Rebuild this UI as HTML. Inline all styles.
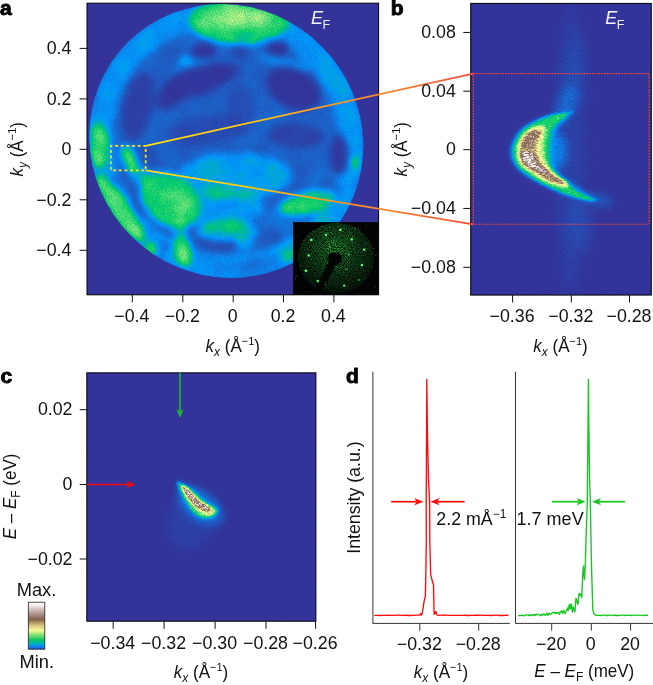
<!DOCTYPE html>
<html><head><meta charset="utf-8"><title>Figure</title>
<style>html,body{margin:0;padding:0;background:#fff;overflow:hidden}svg{display:block}text{font-family:"Liberation Sans",Arial,Helvetica,sans-serif;fill:#111}</style>
</head><body>
<svg width="653" height="685" viewBox="0 0 653 685">
<defs>

<filter id="fa" x="0" y="0" width="100%" height="100%" filterUnits="objectBoundingBox" color-interpolation-filters="sRGB">
<feGaussianBlur in="SourceGraphic" stdDeviation="3.6" result="b"/>
<feTurbulence type="fractalNoise" baseFrequency="0.045" numOctaves="3" seed="15" result="t2"/>
<feColorMatrix in="t2" type="matrix" values="2.4 0 0 0 -0.7  2.4 0 0 0 -0.7  2.4 0 0 0 -0.7  0 0 0 0 1" result="n2"/>
<feComposite in="b" in2="n2" operator="arithmetic" k1="0.22" k2="0.89" k3="0" k4="0" result="b"/>
<feTurbulence type="fractalNoise" baseFrequency="0.9" numOctaves="2" seed="4" result="t"/>
<feColorMatrix in="t" type="matrix" values="2.2 0 0 0 -0.6  2.2 0 0 0 -0.6  2.2 0 0 0 -0.6  0 0 0 0 1" result="n"/>
<feComposite in="b" in2="n" operator="arithmetic" k1="0.24" k2="0.88" k3="0.012" k4="-0.006" result="m"/>
<feComponentTransfer in="m"><feFuncR type="table" tableValues="0.200 0.133 0.067 0.000 0.000 0.000 0.200 0.400 0.600 0.800 1.000 0.900 0.800 0.700 0.600 0.500 0.600 0.700 0.800 0.900 1.000"/><feFuncG type="table" tableValues="0.200 0.333 0.467 0.600 0.700 0.800 0.840 0.880 0.920 0.960 1.000 0.872 0.744 0.616 0.488 0.360 0.488 0.616 0.744 0.872 1.000"/><feFuncB type="table" tableValues="0.600 0.733 0.867 1.000 0.700 0.400 0.440 0.480 0.520 0.560 0.600 0.546 0.492 0.438 0.384 0.330 0.464 0.598 0.732 0.866 1.000"/><feFuncA type="linear" slope="0" intercept="1"/></feComponentTransfer>
</filter>

<filter id="fb" x="0" y="0" width="100%" height="100%" filterUnits="objectBoundingBox" color-interpolation-filters="sRGB">
<feGaussianBlur in="SourceGraphic" stdDeviation="2.2 1.1" result="b"/>
<feTurbulence type="fractalNoise" baseFrequency="0.35 0.9" numOctaves="2" seed="7" result="t"/>
<feColorMatrix in="t" type="matrix" values="2.2 0 0 0 -0.6  2.2 0 0 0 -0.6  2.2 0 0 0 -0.6  0 0 0 0 1" result="n"/>
<feComposite in="b" in2="n" operator="arithmetic" k1="0.35" k2="0.825" k3="0.012" k4="-0.006" result="m"/>
<feComponentTransfer in="m"><feFuncR type="table" tableValues="0.200 0.133 0.067 0.000 0.000 0.000 0.200 0.400 0.600 0.800 1.000 0.900 0.800 0.700 0.600 0.500 0.600 0.700 0.800 0.900 1.000"/><feFuncG type="table" tableValues="0.200 0.333 0.467 0.600 0.700 0.800 0.840 0.880 0.920 0.960 1.000 0.872 0.744 0.616 0.488 0.360 0.488 0.616 0.744 0.872 1.000"/><feFuncB type="table" tableValues="0.600 0.733 0.867 1.000 0.700 0.400 0.440 0.480 0.520 0.560 0.600 0.546 0.492 0.438 0.384 0.330 0.464 0.598 0.732 0.866 1.000"/><feFuncA type="linear" slope="0" intercept="1"/></feComponentTransfer>
</filter>

<filter id="fc" x="0" y="0" width="100%" height="100%" filterUnits="objectBoundingBox" color-interpolation-filters="sRGB">
<feGaussianBlur in="SourceGraphic" stdDeviation="1.1" result="b"/>
<feTurbulence type="fractalNoise" baseFrequency="0.9" numOctaves="2" seed="9" result="t"/>
<feColorMatrix in="t" type="matrix" values="2.2 0 0 0 -0.6  2.2 0 0 0 -0.6  2.2 0 0 0 -0.6  0 0 0 0 1" result="n"/>
<feComposite in="b" in2="n" operator="arithmetic" k1="0.5" k2="0.75" k3="0.008" k4="-0.004" result="m"/>
<feComponentTransfer in="m"><feFuncR type="table" tableValues="0.200 0.133 0.067 0.000 0.000 0.000 0.200 0.400 0.600 0.800 1.000 0.900 0.800 0.700 0.600 0.500 0.600 0.700 0.800 0.900 1.000"/><feFuncG type="table" tableValues="0.200 0.333 0.467 0.600 0.700 0.800 0.840 0.880 0.920 0.960 1.000 0.872 0.744 0.616 0.488 0.360 0.488 0.616 0.744 0.872 1.000"/><feFuncB type="table" tableValues="0.600 0.733 0.867 1.000 0.700 0.400 0.440 0.480 0.520 0.560 0.600 0.546 0.492 0.438 0.384 0.330 0.464 0.598 0.732 0.866 1.000"/><feFuncA type="linear" slope="0" intercept="1"/></feComponentTransfer>
</filter>

<clipPath id="ca"><ellipse cx="0" cy="0" rx="139.5" ry="134.5" transform="translate(226.3 141) rotate(45)"/></clipPath>
<clipPath id="cb"><rect x="470.7" y="3.4" width="180.6" height="291.7"/></clipPath>
<clipPath id="cc"><rect x="86.8" y="372.85" width="229.1" height="248.35"/></clipPath>
<clipPath id="cl"><ellipse cx="336.1" cy="258" rx="38.4" ry="35.2"/></clipPath>
<linearGradient id="lg" gradientUnits="userSpaceOnUse" x1="145.7" y1="0" x2="473" y2="0"><stop offset="0" stop-color="#ffdc14"/><stop offset="0.25" stop-color="#ffd014"/><stop offset="0.5" stop-color="#ffa41e"/><stop offset="0.78" stop-color="#f87c32"/><stop offset="1" stop-color="#f04e3c"/></linearGradient>
<linearGradient id="cbar" x1="0" y1="1" x2="0" y2="0"><stop offset="0" stop-color="#2a4ccc"/><stop offset="0.06" stop-color="#0a8cf5"/><stop offset="0.13" stop-color="#00b4b0"/><stop offset="0.2" stop-color="#10c860"/><stop offset="0.3" stop-color="#80e070"/><stop offset="0.4" stop-color="#f7f79a"/><stop offset="0.5" stop-color="#d8c880"/><stop offset="0.635" stop-color="#86604f"/><stop offset="0.8" stop-color="#c4a8a4"/><stop offset="0.93" stop-color="#f4ecec"/><stop offset="1" stop-color="#ffffff"/></linearGradient>
<filter id="sb3" x="-50%" y="-50%" width="200%" height="200%"><feGaussianBlur stdDeviation="3"/></filter>
<filter id="sb5" x="-60%" y="-60%" width="220%" height="220%"><feGaussianBlur stdDeviation="5"/></filter>
<filter id="sb8" x="-100%" y="-60%" width="300%" height="220%"><feGaussianBlur stdDeviation="8"/></filter>
<radialGradient id="lrg" gradientUnits="userSpaceOnUse" cx="335" cy="248" r="44"><stop offset="0" stop-color="#259a34"/><stop offset="0.3" stop-color="#1a6e26"/><stop offset="0.7" stop-color="#0e3c17"/><stop offset="1" stop-color="#07200b"/></radialGradient>
<filter id="leedf" x="0" y="0" width="100%" height="100%" color-interpolation-filters="sRGB"><feTurbulence type="fractalNoise" baseFrequency="0.95" numOctaves="2" seed="8" result="t"/><feColorMatrix in="t" type="matrix" values="2.6 0 0 0 -0.85  2.6 0 0 0 -0.85  2.6 0 0 0 -0.85  0 0 0 0 1" result="n"/><feComposite in="SourceGraphic" in2="n" operator="arithmetic" k1="0.9" k2="0.18" k3="0" k4="0" result="m"/><feComposite in="m" in2="SourceGraphic" operator="in"/></filter>
<filter id="lblur" x="-10%" y="-10%" width="120%" height="120%"><feGaussianBlur stdDeviation="0.5"/></filter>
</defs>

<g id="panel-a">
<rect x="87" y="3.2" width="291.6" height="291.6" fill="#333399"/>
<g clip-path="url(#ca)"><g filter="url(#fa)">
<rect x="80" y="0" width="300" height="300" fill="#000"/>
<ellipse cx="0" cy="0" rx="150" ry="150" transform="translate(226.3 141)" fill="#111111"/>
<ellipse cx="0" cy="0" rx="128.5" ry="123.5" transform="translate(226.3 141) rotate(45)" fill="none" stroke="#fff" stroke-width="24" opacity="0.085"/>
<ellipse cx="338" cy="92" rx="14" ry="40" fill="#fff" opacity="0.015" transform="rotate(-22 338 92)"/>
<ellipse cx="194" cy="63.5" rx="20" ry="4" fill="#fff" opacity="0.06" transform="rotate(-14 194 63.5)"/>
<ellipse cx="285" cy="63" rx="27" ry="5" fill="#fff" opacity="0.06" transform="rotate(14 285 63)"/>
<ellipse cx="240" cy="43" rx="52" ry="6" fill="#fff" opacity="0.03"/>
<ellipse cx="236" cy="176" rx="56" ry="23" fill="#fff" opacity="0.1"/>
<ellipse cx="222" cy="208" rx="42" ry="20" fill="#fff" opacity="0.09"/>
<ellipse cx="300" cy="230" rx="40" ry="30" fill="#fff" opacity="0.03"/>
<ellipse cx="330" cy="178" rx="22" ry="26" fill="#fff" opacity="0.02"/>
<ellipse cx="197" cy="81" rx="37" ry="15" fill="#000" opacity="0.88" transform="rotate(-18 197 81)"/>
<ellipse cx="228" cy="72" rx="14" ry="9" fill="#000" opacity="0.6" transform="rotate(-10 228 72)"/>
<ellipse cx="170" cy="97" rx="16" ry="11" fill="#000" opacity="0.8" transform="rotate(-35 170 97)"/>
<ellipse cx="204" cy="50.5" rx="12.5" ry="9" fill="#000" opacity="0.9"/>
<ellipse cx="240" cy="51" rx="9" ry="8" fill="#000" opacity="0.55"/>
<ellipse cx="277.5" cy="48" rx="12.5" ry="9" fill="#000" opacity="0.9"/>
<ellipse cx="293.4" cy="88.5" rx="29" ry="20" fill="#000" opacity="0.93" transform="rotate(28 293.4 88.5)"/>
<ellipse cx="339.5" cy="155" rx="10" ry="20" fill="#000" opacity="0.88"/>
<ellipse cx="138" cy="106" rx="15" ry="35" fill="#000" opacity="0.68" transform="rotate(12 138 106)"/>
<ellipse cx="296" cy="136" rx="28" ry="12" fill="#000" opacity="0.6" transform="rotate(3 296 136)"/>
<ellipse cx="240" cy="110" rx="14" ry="26" fill="#000" opacity="0.35"/>
<ellipse cx="205" cy="130" rx="38" ry="15" fill="#000" opacity="0.42" transform="rotate(-8 205 130)"/>
<ellipse cx="116" cy="181" rx="6" ry="6" fill="#000" opacity="0.35"/>
<ellipse cx="136" cy="209.4" rx="8" ry="12" fill="#000" opacity="0.45" transform="rotate(-20 136 209.4)"/>
<ellipse cx="163" cy="247.4" rx="8" ry="7" fill="#000" opacity="0.35"/>
<ellipse cx="216" cy="242" rx="20" ry="9" fill="#000" opacity="0.45" transform="rotate(5 216 242)"/>
<ellipse cx="272" cy="236" rx="12" ry="10" fill="#000" opacity="0.4"/>
<ellipse cx="255" cy="264" rx="40" ry="7" fill="#000" opacity="0.3" transform="rotate(-8 255 264)"/>
<ellipse cx="329" cy="192" rx="13" ry="15" fill="#000" opacity="0.35" transform="rotate(20 329 192)"/>
<ellipse cx="150.5" cy="154" rx="5" ry="8" fill="#000" opacity="0.5"/>
<ellipse cx="239" cy="21" rx="50" ry="23" fill="#fff" opacity="0.2"/>
<ellipse cx="240" cy="19" rx="27" ry="10" fill="#fff" opacity="0.11"/>
<ellipse cx="99" cy="145" rx="9" ry="22" fill="#fff" opacity="0.21"/>
<ellipse cx="129.3" cy="158.5" rx="6" ry="13" fill="#fff" opacity="0.27" transform="rotate(-24 129.3 158.5)"/>
<ellipse cx="140" cy="175" rx="8" ry="13" fill="#fff" opacity="0.12" transform="rotate(-45 140 175)"/>
<ellipse cx="170" cy="200" rx="33" ry="24" fill="#fff" opacity="0.2" transform="rotate(40 170 200)"/>
<ellipse cx="174" cy="201" rx="15" ry="11" fill="#fff" opacity="0.09" transform="rotate(35 174 201)"/>
<ellipse cx="119" cy="208" rx="10" ry="40" fill="#fff" opacity="0.22" transform="rotate(-36 119 208)"/>
<ellipse cx="183.2" cy="250" rx="8" ry="16" fill="#fff" opacity="0.22" transform="rotate(-8 183.2 250)"/>
<ellipse cx="179" cy="228" rx="8" ry="10" fill="#fff" opacity="0.12"/>
<ellipse cx="150" cy="250" rx="9" ry="7" fill="#fff" opacity="0.16" transform="rotate(-40 150 250)"/>
<ellipse cx="228" cy="231" rx="30" ry="10" fill="#fff" opacity="0.14"/>
<ellipse cx="245" cy="243" rx="8" ry="8" fill="#fff" opacity="0.1"/>
<ellipse cx="307" cy="202.5" rx="28" ry="11" fill="#fff" opacity="0.2" transform="rotate(-14 307 202.5)"/>
<ellipse cx="288.5" cy="256" rx="9" ry="6" fill="#fff" opacity="0.15" transform="rotate(-25 288.5 256)"/>
<ellipse cx="355.5" cy="162" rx="4" ry="7" fill="#fff" opacity="0.16"/>
<ellipse cx="185.4" cy="60.4" rx="5" ry="3.5" fill="#fff" opacity="0.2"/>
</g></g>
<rect x="293.1" y="222.1" width="85.5" height="72.7" fill="#020302"/>
<g clip-path="url(#cl)"><ellipse cx="336.1" cy="258" rx="38.4" ry="35.2" fill="url(#lrg)" filter="url(#leedf)"/>
<rect x="339.2" y="228.8" width="2.3" height="2.3" rx="0.7" fill="#5cff78" opacity="1" filter="url(#lblur)"/>
<rect x="324.8" y="233.7" width="2.3" height="2.3" rx="0.7" fill="#5cff78" opacity="1" filter="url(#lblur)"/>
<rect x="310.2" y="238.8" width="2.3" height="2.3" rx="0.7" fill="#5cff78" opacity="1" filter="url(#lblur)"/>
<rect x="350.6" y="238.2" width="2.3" height="2.3" rx="0.7" fill="#5cff78" opacity="1" filter="url(#lblur)"/>
<rect x="363.1" y="248.4" width="2.3" height="2.3" rx="0.7" fill="#5cff78" opacity="1" filter="url(#lblur)"/>
<rect x="307.5" y="254.3" width="2.3" height="2.3" rx="0.7" fill="#5cff78" opacity="1" filter="url(#lblur)"/>
<rect x="347.8" y="253.3" width="2.3" height="2.3" rx="0.7" fill="#5cff78" opacity="0.5" filter="url(#lblur)"/>
<rect x="360.8" y="264.0" width="2.3" height="2.3" rx="0.7" fill="#5cff78" opacity="1" filter="url(#lblur)"/>
<rect x="304.8" y="269.6" width="2.3" height="2.3" rx="0.7" fill="#5cff78" opacity="1" filter="url(#lblur)"/>
<rect x="316.7" y="279.9" width="2.3" height="2.3" rx="0.7" fill="#5cff78" opacity="1" filter="url(#lblur)"/>
<rect x="343.1" y="284.4" width="2.3" height="2.3" rx="0.7" fill="#5cff78" opacity="0.9" filter="url(#lblur)"/>
<rect x="357.9" y="278.8" width="2.3" height="2.3" rx="0.7" fill="#5cff78" opacity="0.4" filter="url(#lblur)"/>
<rect x="345.2" y="268.2" width="2.3" height="2.3" rx="0.7" fill="#5cff78" opacity="0.4" filter="url(#lblur)"/>
<rect x="353.9" y="226.8" width="2.3" height="2.3" rx="0.7" fill="#5cff78" opacity="0.3" filter="url(#lblur)"/>
<rect x="328.9" y="245.8" width="2.3" height="2.3" rx="0.7" fill="#5cff78" opacity="0.3" filter="url(#lblur)"/>
<path d="M328 255.2 L332.3 252.7 L338.6 252.7 L342.1 256.6 L341 262.3 L335.4 265.4 L322 292 L315 289 L328.7 262.3 Z" fill="#020402"/>
</g>
<rect x="345.8" y="275.2" width="0.9" height="0.9" fill="#b03030" opacity="0.75"/>
<rect x="364.1" y="277.6" width="0.9" height="0.9" fill="#3848c0" opacity="0.75"/>
<rect x="348.0" y="286.5" width="0.9" height="0.9" fill="#b03030" opacity="0.75"/>
<rect x="324.7" y="284.2" width="0.9" height="0.9" fill="#a0a030" opacity="0.75"/>
<rect x="339.2" y="263.2" width="0.9" height="0.9" fill="#b03030" opacity="0.75"/>
<rect x="354.9" y="251.5" width="0.9" height="0.9" fill="#3848c0" opacity="0.75"/>
<rect x="370.5" y="276.9" width="0.9" height="0.9" fill="#3848c0" opacity="0.75"/>
<rect x="357.5" y="227.6" width="0.9" height="0.9" fill="#a0a030" opacity="0.75"/>
<rect x="304.1" y="222.6" width="0.9" height="0.9" fill="#b03030" opacity="0.75"/>
<rect x="311.1" y="237.8" width="0.9" height="0.9" fill="#3848c0" opacity="0.75"/>
<rect x="366.8" y="243.0" width="0.9" height="0.9" fill="#3848c0" opacity="0.75"/>
<rect x="338.8" y="270.6" width="0.9" height="0.9" fill="#3848c0" opacity="0.75"/>
<rect x="308.8" y="291.3" width="0.9" height="0.9" fill="#3848c0" opacity="0.75"/>
<rect x="374.7" y="286.0" width="0.9" height="0.9" fill="#289038" opacity="0.75"/>
<rect x="295.3" y="252.0" width="0.9" height="0.9" fill="#3848c0" opacity="0.75"/>
<rect x="315.7" y="246.1" width="0.9" height="0.9" fill="#b03030" opacity="0.75"/>
<rect x="343.6" y="272.7" width="0.9" height="0.9" fill="#b03030" opacity="0.75"/>
<rect x="319.5" y="280.6" width="0.9" height="0.9" fill="#a0a030" opacity="0.75"/>
<rect x="352.0" y="235.6" width="0.9" height="0.9" fill="#a0a030" opacity="0.75"/>
<rect x="352.7" y="226.5" width="0.9" height="0.9" fill="#b03030" opacity="0.75"/>
<rect x="373.2" y="247.9" width="0.9" height="0.9" fill="#a0a030" opacity="0.75"/>
<rect x="295.0" y="278.4" width="0.9" height="0.9" fill="#289038" opacity="0.75"/>
<rect x="325.1" y="282.2" width="0.9" height="0.9" fill="#a0a030" opacity="0.75"/>
<rect x="297.4" y="235.3" width="0.9" height="0.9" fill="#3848c0" opacity="0.75"/>
<rect x="303.5" y="240.0" width="0.9" height="0.9" fill="#a0a030" opacity="0.75"/>
<rect x="322.4" y="247.7" width="0.9" height="0.9" fill="#289038" opacity="0.75"/>
<rect x="358.7" y="230.2" width="0.9" height="0.9" fill="#289038" opacity="0.75"/>
<rect x="365.7" y="225.1" width="0.9" height="0.9" fill="#b03030" opacity="0.75"/>
<rect x="311.0" y="258.9" width="0.9" height="0.9" fill="#289038" opacity="0.75"/>
<rect x="370.6" y="246.6" width="0.9" height="0.9" fill="#b03030" opacity="0.75"/>
<rect x="319.7" y="245.0" width="0.9" height="0.9" fill="#3848c0" opacity="0.75"/>
<rect x="360.6" y="267.0" width="0.9" height="0.9" fill="#289038" opacity="0.75"/>
<rect x="377.2" y="234.0" width="0.9" height="0.9" fill="#b03030" opacity="0.75"/>
<rect x="300.3" y="265.1" width="0.9" height="0.9" fill="#a0a030" opacity="0.75"/>
<rect x="296.2" y="275.1" width="0.9" height="0.9" fill="#289038" opacity="0.75"/>
<rect x="362.9" y="254.9" width="0.9" height="0.9" fill="#a0a030" opacity="0.75"/>
<rect x="305.7" y="292.0" width="0.9" height="0.9" fill="#b03030" opacity="0.75"/>
<rect x="360.8" y="246.2" width="0.9" height="0.9" fill="#3848c0" opacity="0.75"/>
<rect x="304.5" y="274.4" width="0.9" height="0.9" fill="#3848c0" opacity="0.75"/>
<rect x="346.5" y="278.4" width="0.9" height="0.9" fill="#b03030" opacity="0.75"/>
<rect x="307.7" y="249.0" width="0.9" height="0.9" fill="#b03030" opacity="0.75"/>
<rect x="364.5" y="243.4" width="0.9" height="0.9" fill="#a0a030" opacity="0.75"/>
<rect x="370.9" y="266.5" width="0.9" height="0.9" fill="#3848c0" opacity="0.75"/>
<rect x="375.5" y="254.7" width="0.9" height="0.9" fill="#a0a030" opacity="0.75"/>
<rect x="351.4" y="245.1" width="0.9" height="0.9" fill="#289038" opacity="0.75"/>
<rect x="317.9" y="251.2" width="0.9" height="0.9" fill="#3848c0" opacity="0.75"/>
<rect x="87" y="3.2" width="291.6" height="291.6" fill="none" stroke="#000" stroke-width="1"/>
<rect x="110.9" y="145.8" width="34.8" height="24.5" fill="none" stroke="#f5e41e" stroke-width="1.7" stroke-dasharray="3 2.65" stroke-dashoffset="1.5"/>
<line x1="79.6" y1="48.4" x2="87" y2="48.4" stroke="#111" stroke-width="1"/>
<line x1="79.6" y1="98.9" x2="87" y2="98.9" stroke="#111" stroke-width="1"/>
<line x1="79.6" y1="149.3" x2="87" y2="149.3" stroke="#111" stroke-width="1"/>
<line x1="79.6" y1="199.8" x2="87" y2="199.8" stroke="#111" stroke-width="1"/>
<line x1="79.6" y1="250.3" x2="87" y2="250.3" stroke="#111" stroke-width="1"/>
<line x1="132.3" y1="294.8" x2="132.3" y2="302.3" stroke="#111" stroke-width="1"/>
<line x1="182.8" y1="294.8" x2="182.8" y2="302.3" stroke="#111" stroke-width="1"/>
<line x1="233.2" y1="294.8" x2="233.2" y2="302.3" stroke="#111" stroke-width="1"/>
<line x1="283.5" y1="294.8" x2="283.5" y2="302.3" stroke="#111" stroke-width="1"/>
<line x1="333.9" y1="294.8" x2="333.9" y2="302.3" stroke="#111" stroke-width="1"/>
<text transform="translate(71.4 54.199999999999996) scale(1.0 1)" font-size="17.8" text-anchor="end">0.4</text>
<text transform="translate(71.4 104.7) scale(1.0 1)" font-size="17.8" text-anchor="end">0.2</text>
<text transform="translate(71.4 155.10000000000002) scale(1.0 1)" font-size="17.8" text-anchor="end">0</text>
<text transform="translate(71.4 205.60000000000002) scale(1.0 1)" font-size="17.8" text-anchor="end">−0.2</text>
<text transform="translate(71.4 256.1) scale(1.0 1)" font-size="17.8" text-anchor="end">−0.4</text>
<text transform="translate(131.8 321.6) scale(1.0 1)" font-size="17.8" text-anchor="middle">−0.4</text>
<text transform="translate(182.3 321.6) scale(1.0 1)" font-size="17.8" text-anchor="middle">−0.2</text>
<text transform="translate(232.7 321.6) scale(1.0 1)" font-size="17.8" text-anchor="middle">0</text>
<text transform="translate(283.0 321.6) scale(1.0 1)" font-size="17.8" text-anchor="middle">0.2</text>
<text transform="translate(333.4 321.6) scale(1.0 1)" font-size="17.8" text-anchor="middle">0.4</text>
<text transform="translate(232.8 351.8) scale(0.935 1)" font-size="18.2" text-anchor="middle"><tspan font-style="italic">k</tspan><tspan font-style="italic" font-size="12.8" dy="4.6">x</tspan><tspan dy="-4.6"> (Å</tspan><tspan font-size="11.8" dy="-6.8">−1</tspan><tspan dy="6.8">)</tspan></text>
<text transform="translate(22.6 149.3) rotate(-90) scale(0.935 1)" font-size="18.2" text-anchor="middle"><tspan font-style="italic">k</tspan><tspan font-style="italic" font-size="12.8" dy="4.6">y</tspan><tspan dy="-4.6"> (Å</tspan><tspan font-size="11.8" dy="-6.8">−1</tspan><tspan dy="6.8">)</tspan></text>
<text x="311" y="24" font-size="18" style="fill:#f2f2fb"><tspan font-style="italic">E</tspan><tspan font-size="12.5" dy="4.8" dx="-0.5">F</tspan></text>
<text x="0" y="15" font-size="21" font-weight="bold" style="fill:#000;stroke:#000;stroke-width:0.9px;stroke-linejoin:round">a</text>
</g>
<g id="panel-b">
<g clip-path="url(#cb)"><g filter="url(#fb)">
<rect x="460" y="0" width="200" height="300" fill="#000"/>
<ellipse cx="571" cy="150" rx="16" ry="150" fill="#fff" opacity="0.018" filter="url(#sb8)"/>
<ellipse cx="574" cy="75" rx="8" ry="42" fill="#fff" opacity="0.025" transform="rotate(10 574 75)" filter="url(#sb8)"/>
<ellipse cx="566" cy="104" rx="9" ry="20" fill="#fff" opacity="0.05" transform="rotate(25 566 104)" filter="url(#sb5)"/>
<ellipse cx="582" cy="225" rx="12" ry="28" fill="#fff" opacity="0.022" transform="rotate(-8 582 225)" filter="url(#sb8)"/>
<ellipse cx="600" cy="200" rx="14" ry="6" fill="#fff" opacity="0.06" transform="rotate(15 600 200)" filter="url(#sb5)"/>
<ellipse cx="553" cy="151" rx="13" ry="20" fill="#fff" opacity="0.1" filter="url(#sb5)"/>
<path d="M574.0 110.0 C574.0 109.3 571.3 111.7 567.4 112.6 C563.5 113.5 555.6 113.9 550.5 115.2 C545.4 116.5 541.2 118.2 537.0 120.2 C532.8 122.2 528.7 124.3 525.3 127.0 C521.9 129.7 519.0 132.4 516.8 136.2 C514.5 140.0 512.1 145.1 511.8 149.7 C511.5 154.3 513.0 159.9 515.2 164.0 C517.5 168.1 520.8 170.7 525.3 174.1 C529.8 177.5 536.5 181.2 542.1 184.2 C547.7 187.1 553.4 189.6 559.0 191.8 C564.6 194.1 570.5 196.2 575.8 197.7 C581.1 199.2 587.6 200.6 591.0 201.0 C594.4 201.4 596.6 201.1 596.0 200.0 C595.4 198.9 591.5 196.9 587.6 194.3 C583.7 191.7 577.2 187.6 572.4 184.2 C567.6 180.8 562.4 177.5 559.0 174.1 C555.6 170.7 553.6 167.9 552.2 164.0 C550.8 160.1 550.5 154.7 550.5 150.5 C550.5 146.3 551.1 142.3 552.2 138.7 C553.3 135.0 554.8 132.2 557.3 128.6 C559.8 124.9 564.6 119.9 567.4 116.8 C570.2 113.7 574.0 110.7 574.0 110.0 Z" fill="#fff" opacity="0.08" filter="url(#sb3)"/>
<path d="M574.0 110.0 C574.0 109.3 571.3 111.7 567.4 112.6 C563.5 113.5 555.6 113.9 550.5 115.2 C545.4 116.5 541.2 118.2 537.0 120.2 C532.8 122.2 528.7 124.3 525.3 127.0 C521.9 129.7 519.0 132.4 516.8 136.2 C514.5 140.0 512.1 145.1 511.8 149.7 C511.5 154.3 513.0 159.9 515.2 164.0 C517.5 168.1 520.8 170.7 525.3 174.1 C529.8 177.5 536.5 181.2 542.1 184.2 C547.7 187.1 553.4 189.6 559.0 191.8 C564.6 194.1 570.5 196.2 575.8 197.7 C581.1 199.2 587.6 200.6 591.0 201.0 C594.4 201.4 596.6 201.1 596.0 200.0 C595.4 198.9 591.5 196.9 587.6 194.3 C583.7 191.7 577.2 187.6 572.4 184.2 C567.6 180.8 562.4 177.5 559.0 174.1 C555.6 170.7 553.6 167.9 552.2 164.0 C550.8 160.1 550.5 154.7 550.5 150.5 C550.5 146.3 551.1 142.3 552.2 138.7 C553.3 135.0 554.8 132.2 557.3 128.6 C559.8 124.9 564.6 119.9 567.4 116.8 C570.2 113.7 574.0 110.7 574.0 110.0 Z" fill="#fff" opacity="0.07"/>
<path d="M574.0 110.0 C574.0 109.6 571.3 111.7 567.4 112.6 C563.5 113.5 555.6 113.9 550.5 115.2 C545.4 116.5 541.2 118.2 537.0 120.2 C532.8 122.2 528.7 124.3 525.3 127.0 C521.9 129.7 519.0 132.4 516.8 136.2 C514.5 140.0 512.1 145.1 511.8 149.7 C511.5 154.3 513.0 159.9 515.2 164.0 C517.5 168.1 520.8 170.7 525.3 174.1 C529.8 177.5 536.5 181.2 542.1 184.2 C547.7 187.1 553.4 189.6 559.0 191.8 C564.6 194.1 570.5 196.2 575.8 197.7 C581.1 199.2 587.6 200.6 591.0 201.0 C594.4 201.4 597.0 200.9 596.0 200.0 C595.0 199.1 589.3 197.7 585.0 195.5 C580.7 193.3 574.7 189.9 570.0 187.0 C565.3 184.1 560.5 181.3 557.0 178.0 C553.5 174.7 550.8 171.5 549.0 167.0 C547.2 162.5 546.8 155.5 546.5 151.0 C546.2 146.5 546.8 143.3 547.5 140.0 C548.2 136.7 549.2 133.9 551.0 131.0 C552.8 128.1 555.3 125.2 558.0 122.5 C560.7 119.8 564.7 117.1 567.4 115.0 C570.1 112.9 574.0 110.4 574.0 110.0 Z" fill="#fff" opacity="0.15"/>
<path d="M542.1 125.3 C539.9 125.0 535.4 126.0 532.0 127.8 C528.6 129.6 524.4 132.5 521.9 136.2 C519.4 139.8 517.1 145.1 516.8 149.7 C516.5 154.3 518.0 160.2 520.2 164.0 C522.5 167.8 525.8 169.3 530.3 172.4 C534.8 175.5 541.0 180.0 547.2 182.5 C553.4 185.0 564.0 187.4 567.4 187.6 C570.8 187.8 569.4 185.8 567.4 183.5 C565.4 181.2 559.2 177.6 555.6 174.1 C552.0 170.6 547.8 166.2 545.5 162.3 C543.2 158.4 542.5 154.4 542.1 150.5 C541.7 146.6 542.4 142.2 543.0 138.7 C543.6 135.2 545.6 131.7 545.5 129.5 C545.4 127.3 544.4 125.6 542.1 125.3 Z" fill="#fff" opacity="0.3"/>
<path d="M540.4 131.2 C539.0 130.5 534.8 129.2 532.0 130.3 C529.2 131.4 525.6 134.7 523.6 137.9 C521.6 141.1 520.0 145.5 519.9 149.7 C519.8 153.9 520.4 159.7 522.7 163.2 C525.0 166.7 529.1 167.9 533.7 170.8 C538.3 173.8 545.3 178.7 550.5 180.9 C555.7 183.1 562.4 184.1 564.9 184.2 C567.4 184.3 568.1 183.5 565.7 181.5 C563.3 179.5 554.9 175.6 550.5 172.4 C546.1 169.2 542.1 166.0 539.6 162.3 C537.1 158.7 536.0 154.2 535.4 150.5 C534.8 146.8 535.4 143.1 536.2 140.4 C537.0 137.7 539.7 136.0 540.4 134.5 C541.1 133.0 541.8 131.9 540.4 131.2 Z" fill="#fff" opacity="0.52"/>
<path d="M522.7 152.2 C521.6 153.6 522.5 158.2 523.6 160.6 C524.7 163.0 526.7 164.8 529.5 166.5 C532.3 168.2 537.4 169.4 540.4 170.8 C543.4 172.2 546.4 175.0 547.2 175.0 C548.1 175.0 547.3 172.5 545.5 170.8 C543.7 169.1 538.5 167.2 536.2 164.9 C534.0 162.7 533.0 159.4 532.0 157.3 C531.0 155.2 531.8 153.0 530.3 152.2 C528.8 151.3 523.8 150.8 522.7 152.2 Z" fill="#fff" opacity="0.75"/>
<ellipse cx="527" cy="149.7" rx="10" ry="0.8" fill="#000" opacity="0.35"/>
</g></g>
<rect x="470.7" y="3.4" width="180.6" height="291.7" fill="none" stroke="#000" stroke-width="1"/>
<path d="M145.7 145.8 L473.3 73.6 M145.7 170.3 L473.3 224.3" stroke="url(#lg)" stroke-width="1.7" fill="none"/>
<rect x="473.3" y="73.6" width="175.8" height="150.7" fill="none" stroke="#f2443a" stroke-width="1.1" stroke-dasharray="1.7 1.2"/>
<line x1="463.3" y1="32.45" x2="470.7" y2="32.45" stroke="#111" stroke-width="1"/>
<text transform="translate(455.8 38.050000000000004) scale(1.0 1)" font-size="17.8" text-anchor="end">0.08</text>
<line x1="463.3" y1="91.2" x2="470.7" y2="91.2" stroke="#111" stroke-width="1"/>
<text transform="translate(455.8 96.8) scale(1.0 1)" font-size="17.8" text-anchor="end">0.04</text>
<line x1="463.3" y1="149.7" x2="470.7" y2="149.7" stroke="#111" stroke-width="1"/>
<text transform="translate(455.8 155.29999999999998) scale(1.0 1)" font-size="17.8" text-anchor="end">0</text>
<line x1="463.3" y1="208.45" x2="470.7" y2="208.45" stroke="#111" stroke-width="1"/>
<text transform="translate(455.8 214.04999999999998) scale(1.0 1)" font-size="17.8" text-anchor="end">−0.04</text>
<line x1="463.3" y1="267.3" x2="470.7" y2="267.3" stroke="#111" stroke-width="1"/>
<text transform="translate(455.8 272.90000000000003) scale(1.0 1)" font-size="17.8" text-anchor="end">−0.08</text>
<line x1="512.6" y1="295.1" x2="512.6" y2="302.5" stroke="#111" stroke-width="1"/>
<text transform="translate(512.1 321.8) scale(1.0 1)" font-size="17.8" text-anchor="middle">−0.36</text>
<line x1="571.3" y1="295.1" x2="571.3" y2="302.5" stroke="#111" stroke-width="1"/>
<text transform="translate(570.8 321.8) scale(1.0 1)" font-size="17.8" text-anchor="middle">−0.32</text>
<line x1="629.5" y1="295.1" x2="629.5" y2="302.5" stroke="#111" stroke-width="1"/>
<text transform="translate(629.0 321.8) scale(1.0 1)" font-size="17.8" text-anchor="middle">−0.28</text>
<text transform="translate(560.5 351.8) scale(0.935 1)" font-size="18.2" text-anchor="middle"><tspan font-style="italic">k</tspan><tspan font-style="italic" font-size="12.8" dy="4.6">x</tspan><tspan dy="-4.6"> (Å</tspan><tspan font-size="11.8" dy="-6.8">−1</tspan><tspan dy="6.8">)</tspan></text>
<text transform="translate(406.6 149.3) rotate(-90) scale(0.935 1)" font-size="18.2" text-anchor="middle"><tspan font-style="italic">k</tspan><tspan font-style="italic" font-size="12.8" dy="4.6">y</tspan><tspan dy="-4.6"> (Å</tspan><tspan font-size="11.8" dy="-6.8">−1</tspan><tspan dy="6.8">)</tspan></text>
<text x="605.3" y="24" font-size="18" style="fill:#f2f2fb"><tspan font-style="italic">E</tspan><tspan font-size="12.5" dy="4.8" dx="-0.5">F</tspan></text>
<text x="390.8" y="14.8" font-size="21" font-weight="bold" style="fill:#000;stroke:#000;stroke-width:0.9px;stroke-linejoin:round">b</text>
</g>
<g id="panel-c">
<g clip-path="url(#cc)"><g filter="url(#fc)">
<rect x="80" y="365" width="245" height="265" fill="#000"/>
<ellipse cx="190" cy="522" rx="24" ry="30" fill="#fff" opacity="0.02" transform="rotate(15 190 522)" filter="url(#sb8)"/>
<ellipse cx="201" cy="506" rx="27" ry="15" fill="#fff" opacity="0.065" transform="rotate(36 201 506)" filter="url(#sb5)"/>
<path d="M177.2 481.5 C177.6 480.5 179.6 482.1 182.0 483.4 C184.4 484.7 188.8 487.1 191.9 489.5 C195.0 491.9 197.6 495.7 200.4 498.1 C203.2 500.6 206.3 502.6 209.0 504.2 C211.7 505.8 215.0 506.7 216.4 507.9 C217.8 509.1 218.2 510.2 217.6 511.6 C217.0 513.0 215.1 515.5 212.7 516.5 C210.2 517.5 206.0 518.3 202.9 517.7 C199.8 517.1 197.0 515.2 194.3 512.8 C191.7 510.3 189.4 506.9 187.0 503.0 C184.6 499.1 181.2 493.1 179.6 489.5 C178.0 485.9 176.8 482.5 177.2 481.5 Z" fill="#fff" opacity="0.13" filter="url(#sb3)"/>
<path d="M177.2 481.5 C177.6 480.5 179.6 482.1 182.0 483.4 C184.4 484.7 188.8 487.1 191.9 489.5 C195.0 491.9 197.6 495.7 200.4 498.1 C203.2 500.6 206.3 502.6 209.0 504.2 C211.7 505.8 215.0 506.7 216.4 507.9 C217.8 509.1 218.2 510.2 217.6 511.6 C217.0 513.0 215.1 515.5 212.7 516.5 C210.2 517.5 206.0 518.3 202.9 517.7 C199.8 517.1 197.0 515.2 194.3 512.8 C191.7 510.3 189.4 506.9 187.0 503.0 C184.6 499.1 181.2 493.1 179.6 489.5 C178.0 485.9 176.8 482.5 177.2 481.5 Z" fill="#fff" opacity="0.17"/>
<path d="M181.0 484.8 C182.2 484.7 187.5 489.0 190.5 491.5 C193.5 494.0 196.1 497.6 199.0 500.0 C201.9 502.4 205.4 504.4 208.0 506.0 C210.6 507.6 213.5 508.2 214.5 509.5 C215.5 510.8 215.4 512.5 214.0 513.5 C212.6 514.5 208.7 515.9 206.0 515.5 C203.3 515.1 200.7 513.2 198.0 511.0 C195.3 508.8 192.4 505.7 190.0 502.5 C187.6 499.3 185.0 494.9 183.5 492.0 C182.0 489.1 179.8 484.9 181.0 484.8 Z" fill="#fff" opacity="0.2"/>
<ellipse cx="208" cy="510.5" rx="6.5" ry="3.3" fill="#fff" opacity="0.16" transform="rotate(25 208 510.5)"/>
<path d="M182.8 485.8 C183.7 485.9 186.2 487.3 188.0 489.0 C189.8 490.7 191.8 493.7 193.8 495.8 C195.8 497.9 197.4 499.9 200.0 501.8 C202.6 503.7 208.2 505.8 209.5 507.3 C210.8 508.8 209.5 510.8 207.5 510.8 C205.5 510.8 200.3 508.8 197.5 507.2 C194.7 505.6 192.7 503.2 190.8 501.0 C188.9 498.8 187.7 496.1 186.3 494.0 C184.9 491.9 183.1 489.9 182.5 488.5 C181.9 487.1 181.9 485.7 182.8 485.8 Z" fill="#fff" opacity="0.68"/>
<ellipse cx="188.5" cy="492.3" rx="1.6" ry="1.6" fill="#fff" opacity="0.8"/>
<ellipse cx="192.3" cy="497" rx="1.6" ry="1.6" fill="#fff" opacity="0.8"/>
<ellipse cx="199.5" cy="504.3" rx="1.5" ry="1.3" fill="#fff" opacity="0.8"/>
<ellipse cx="203.7" cy="507.3" rx="1.4" ry="1.2" fill="#fff" opacity="0.8"/>
</g></g>
<rect x="86.8" y="372.85" width="229.1" height="248.35" fill="none" stroke="#000" stroke-width="1"/>
<line x1="79.7" y1="409.7" x2="86.8" y2="409.7" stroke="#111" stroke-width="1"/>
<text transform="translate(72.5 415.3) scale(1.0 1)" font-size="17.8" text-anchor="end">0.02</text>
<line x1="79.7" y1="484.5" x2="86.8" y2="484.5" stroke="#111" stroke-width="1"/>
<text transform="translate(72.5 490.1) scale(1.0 1)" font-size="17.8" text-anchor="end">0</text>
<line x1="79.7" y1="559" x2="86.8" y2="559" stroke="#111" stroke-width="1"/>
<text transform="translate(72.5 564.6) scale(1.0 1)" font-size="17.8" text-anchor="end">−0.02</text>
<line x1="113.2" y1="621.2" x2="113.2" y2="628.8" stroke="#111" stroke-width="1"/>
<text transform="translate(112.7 648.6) scale(1.0 1)" font-size="17.8" text-anchor="middle">−0.34</text>
<line x1="164.1" y1="621.2" x2="164.1" y2="628.8" stroke="#111" stroke-width="1"/>
<text transform="translate(163.6 648.6) scale(1.0 1)" font-size="17.8" text-anchor="middle">−0.32</text>
<line x1="215.1" y1="621.2" x2="215.1" y2="628.8" stroke="#111" stroke-width="1"/>
<text transform="translate(214.6 648.6) scale(1.0 1)" font-size="17.8" text-anchor="middle">−0.30</text>
<line x1="266" y1="621.2" x2="266" y2="628.8" stroke="#111" stroke-width="1"/>
<text transform="translate(265.5 648.6) scale(1.0 1)" font-size="17.8" text-anchor="middle">−0.28</text>
<line x1="315.6" y1="621.2" x2="315.6" y2="628.8" stroke="#111" stroke-width="1"/>
<text transform="translate(315.1 648.6) scale(1.0 1)" font-size="17.8" text-anchor="middle">−0.26</text>
<text transform="translate(201 677.8) scale(0.935 1)" font-size="18.2" text-anchor="middle"><tspan font-style="italic">k</tspan><tspan font-style="italic" font-size="12.8" dy="4.6">x</tspan><tspan dy="-4.6"> (Å</tspan><tspan font-size="11.8" dy="-6.8">−1</tspan><tspan dy="6.8">)</tspan></text>
<text transform="translate(15.6 496.4) rotate(-90) scale(0.935 1)" font-size="18.2" text-anchor="middle"><tspan font-style="italic">E</tspan> – <tspan font-style="italic">E</tspan><tspan font-size="12.8" dy="4.6">F</tspan><tspan dy="-4.6"> (eV)</tspan></text>
<line x1="86.8" y1="484.5" x2="128.80" y2="484.50" stroke="#ee0a14" stroke-width="1.7"/><path d="M135.6 484.5 L126.60 488.10 L128.80 484.50 L126.60 480.90 Z" fill="#ee0a14"/>
<line x1="180" y1="372.4" x2="180.00" y2="411.20" stroke="#1eb432" stroke-width="1.7"/><path d="M180 418 L176.40 409.00 L180.00 411.20 L183.60 409.00 Z" fill="#1eb432"/>
<text transform="translate(36.5 596.3) scale(1 1)" font-size="18.3" text-anchor="middle">Max.</text>
<text transform="translate(36.7 668.4) scale(1 1)" font-size="18.3" text-anchor="middle">Min.</text>
<rect x="28.3" y="602.2" width="16.5" height="47" fill="url(#cbar)" stroke="#222" stroke-width="0.8"/>
<text x="0.5" y="382.8" font-size="21" font-weight="bold" style="fill:#000;stroke:#000;stroke-width:0.9px;stroke-linejoin:round">c</text>
</g>
<g id="panel-d">
<path d="M372.9 371.7 V623.4 H509.8" fill="none" stroke="#333" stroke-width="1"/>
<path d="M515.5 371.7 V623.4 H653" fill="none" stroke="#333" stroke-width="1"/>
<line x1="419.8" y1="623.4" x2="419.8" y2="630.6" stroke="#333" stroke-width="1"/>
<text transform="translate(419.3 650.0) scale(1.0 1)" font-size="17.8" text-anchor="middle">−0.32</text>
<line x1="478.7" y1="623.4" x2="478.7" y2="630.6" stroke="#333" stroke-width="1"/>
<text transform="translate(478.2 650.0) scale(1.0 1)" font-size="17.8" text-anchor="middle">−0.28</text>
<line x1="551.7" y1="623.4" x2="551.7" y2="630.6" stroke="#333" stroke-width="1"/>
<text transform="translate(551.2 650.0) scale(1.0 1)" font-size="17.8" text-anchor="middle">−20</text>
<line x1="591.3" y1="623.4" x2="591.3" y2="630.6" stroke="#333" stroke-width="1"/>
<text transform="translate(590.8 650.0) scale(1.0 1)" font-size="17.8" text-anchor="middle">0</text>
<line x1="630.6" y1="623.4" x2="630.6" y2="630.6" stroke="#333" stroke-width="1"/>
<text transform="translate(630.1 650.0) scale(1.0 1)" font-size="17.8" text-anchor="middle">20</text>
<text transform="translate(441 677.6) scale(0.935 1)" font-size="18.2" text-anchor="middle"><tspan font-style="italic">k</tspan><tspan font-style="italic" font-size="12.8" dy="4.6">x</tspan><tspan dy="-4.6"> (Å</tspan><tspan font-size="11.8" dy="-6.8">−1</tspan><tspan dy="6.8">)</tspan></text>
<text transform="translate(584.3 676.7) scale(0.935 1)" font-size="18.2" text-anchor="middle"><tspan font-style="italic">E</tspan> – <tspan font-style="italic">E</tspan><tspan font-size="12.8" dy="4.6">F</tspan><tspan dy="-4.6"> (meV)</tspan></text>
<text transform="translate(359.8 497.6) rotate(-90) scale(0.975 1)" font-size="18.2" text-anchor="middle">Intensity (a.u.)</text>
<polyline fill="none" stroke="#ff0a0a" stroke-width="1.35" stroke-linejoin="round" points="374.3,615.3 376.0,615.3 378.0,615.3 380.0,615.5 382.0,615.3 384.0,615.3 386.0,615.3 388.0,615.2 390.0,615.3 392.0,615.4 394.0,615.4 396.0,615.1 398.0,615.2 400.0,615.1 402.0,615.4 404.0,615.4 406.0,615.1 408.0,615.5 410.0,615.5 412.0,615.4 414.0,615.3 416.0,615.2 418.0,615.1 419.8,615.2 420.4,613.7 421.7,615.0 422.9,609.4 424.2,600.7 425.4,595.8 426.0,564.8 426.3,540.0 426.2,501.6 426.4,470.0 426.8,379.5 427.4,430.0 428.5,480.0 429.6,501.6 429.8,540.0 430.7,574.7 432.8,582.8 433.5,584.6 434.1,614.3 435.0,613.5 435.9,611.3 436.4,614.0 437.2,615.2 439.0,615.3 441.0,615.1 443.0,615.2 445.0,615.2 447.0,615.1 449.0,615.3 451.0,615.3 453.0,615.4 455.0,615.3 457.0,615.4 459.0,615.3 461.0,615.4 463.0,615.3 465.0,615.2 467.0,615.5 469.0,615.5 471.0,615.4 473.0,615.4 475.0,615.2 477.0,615.2 479.0,615.2 481.0,615.1 483.0,615.4 485.0,615.3 487.0,615.4 489.0,615.3 491.0,615.5 493.0,615.4 495.0,615.1 497.0,615.2 499.0,615.5 501.0,615.3 503.0,615.5 505.0,615.3 507.0,615.1 508.5,615.3"/>
<polyline fill="none" stroke="#14c81e" stroke-width="1.35" stroke-linejoin="round" points="518.1,615.6 519.0,615.6 519.9,615.7 520.8,615.3 521.7,615.1 522.6,615.3 523.5,615.9 524.4,615.7 525.3,615.0 526.2,615.1 527.1,614.9 528.0,614.8 528.9,615.7 529.8,614.9 530.7,615.4 531.6,615.2 532.5,614.7 533.4,615.5 534.3,614.5 535.2,615.3 536.1,614.3 537.0,614.8 537.9,614.4 538.8,614.4 539.7,615.7 540.6,615.4 541.5,614.2 542.4,615.4 543.3,613.9 544.2,614.2 545.1,615.2 546.0,614.6 546.9,613.2 547.8,615.4 548.7,613.3 549.6,613.3 550.5,614.6 551.4,613.3 552.3,613.1 553.2,612.3 554.1,612.2 555.0,613.6 555.9,612.5 556.8,613.4 557.7,612.6 558.6,612.7 559.5,614.3 560.0,612.5 561.5,611.0 562.5,613.5 563.7,610.0 565.0,613.7 566.2,611.5 567.5,608.0 568.3,610.5 569.3,604.4 570.2,609.0 571.2,603.8 572.4,611.9 573.3,607.0 574.0,609.5 574.9,611.9 575.5,603.0 576.1,598.2 577.0,602.0 578.0,604.4 578.6,597.0 579.2,593.3 580.0,595.5 580.8,594.0 581.7,597.6 582.3,585.0 582.9,572.2 583.5,566.0 584.0,574.0 584.5,579.7 585.0,570.0 585.4,562.3 586.0,540.0 586.7,520.0 587.3,501.6 587.9,440.0 588.4,379.5 588.9,430.0 589.6,480.0 590.3,501.6 591.0,540.0 591.5,565.0 592.0,583.4 592.8,609.4 593.8,613.6 595.3,615.0 597.0,615.3 598.5,615.3 600.0,615.3 601.5,615.5 603.0,615.1 604.5,615.1 606.0,615.5 607.5,615.5 609.0,615.2 610.5,615.1 612.0,615.4 613.5,615.5 615.0,615.1 616.5,615.5 618.0,615.5 619.5,615.4 621.0,615.3 622.5,615.1 624.0,615.1 625.5,615.5 627.0,615.2 628.5,615.4 630.0,615.2 631.5,615.5 633.0,615.3 634.5,615.2 636.0,615.1 637.5,615.4 639.0,615.1 640.5,615.2 642.0,615.3 643.5,615.5 645.0,615.4 646.5,615.2 648.0,615.5"/>
<line x1="391.2" y1="501.7" x2="416.60" y2="501.70" stroke="#ff0a0a" stroke-width="1.7"/><path d="M423.4 501.7 L414.40 505.30 L416.60 501.70 L414.40 498.10 Z" fill="#ff0a0a"/>
<line x1="464.6" y1="501.7" x2="437.30" y2="501.70" stroke="#ff0a0a" stroke-width="1.7"/><path d="M430.5 501.7 L439.50 498.10 L437.30 501.70 L439.50 505.30 Z" fill="#ff0a0a"/>
<line x1="552" y1="501.7" x2="578.80" y2="501.70" stroke="#14c81e" stroke-width="1.7"/><path d="M585.6 501.7 L576.60 505.30 L578.80 501.70 L576.60 498.10 Z" fill="#14c81e"/>
<line x1="624.9" y1="501.7" x2="598.80" y2="501.70" stroke="#14c81e" stroke-width="1.7"/><path d="M592 501.7 L601.00 498.10 L598.80 501.70 L601.00 505.30 Z" fill="#14c81e"/>
<text transform="translate(436.3 525.2) scale(0.99 1)" font-size="18" text-anchor="start">2.2 mÅ<tspan font-size="12" dy="-6.8">−1</tspan></text>
<text transform="translate(516.6 525.2) scale(1.0 1)" font-size="18" text-anchor="start">1.7 meV</text>
<text x="346" y="383" font-size="21" font-weight="bold" style="fill:#000;stroke:#000;stroke-width:0.9px;stroke-linejoin:round">d</text>
</g>
</svg>
</body></html>
